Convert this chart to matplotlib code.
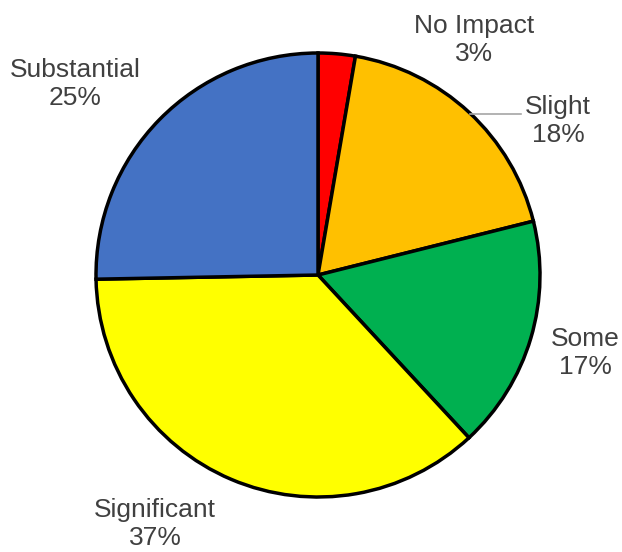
import matplotlib.pyplot as plt

# data (shares)
labels = ["No Impact", "Slight", "Some", "Significant", "Substantial"]
values = [2.7, 18.4, 17.0, 36.6, 25.3]
colors = ["#FF0000", "#FFC000", "#00B050", "#FFFF00", "#4472C4"]

# label centres in pixel coords (y from top)
label_pos = [(474, 40), (558, 121), (585, 353), (155, 524), (75, 84)]

W, H = 622, 552
fig = plt.figure(figsize=(W / 100, H / 100), dpi=100)
ax = fig.add_axes([0, 0, 1, 1])

ax.pie(values, colors=colors, startangle=90, counterclock=False,
       center=(318, H - 275), radius=222, frame=True,
       wedgeprops=dict(edgecolor="black", linewidth=2.5))
ax.set_xlim(0, W)
ax.set_ylim(0, H)
ax.set_aspect("equal")
ax.axis("off")

for lab, v, (x, y) in zip(labels, values, label_pos):
    ax.text(x, H - y, f"{lab}\n{v:.0f}%", ha="center", va="center",
            fontsize=19, family="Liberation Sans", color="#404040",
            linespacing=1.2)

# leader line for Slight
ax.plot([470, 521], [H - 114, H - 114], color="#A6A6A6", lw=1.2)

fig.savefig("out.png", dpi=100)
